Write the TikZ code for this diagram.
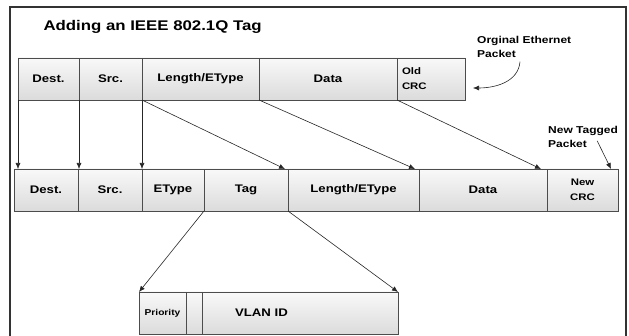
\documentclass[tikz,border=0pt]{standalone}
\usepackage{fontspec}
\setmainfont[FakeStretch=1.2]{Liberation Sans}
\usepackage{tikz}
\usetikzlibrary{arrows.meta, positioning}

\begin{document}
\begin{tikzpicture}[
  x=1pt, y=-1pt,
  font=\bfseries\fontsize{11}{12}\selectfont,
  >={Latex[length=6pt,width=5pt]},
  cell/.style={draw=black!70, line width=0.7pt, top color=gray!5,
               bottom color=gray!28, minimum width=#1,
               minimum height=42pt, inner sep=1pt, outer sep=0pt,
               align=center},
  arr/.style={->, line width=0.6pt, color=black!85},
  annot/.style={font=\bfseries\fontsize{10}{14}\selectfont,
                align=left, inner sep=0pt},
  small/.style={font=\bfseries\fontsize{9.5}{15}\selectfont},
]
\useasboundingbox (0,0) rectangle (629,336);

%% ---------- Frame and title ------------------------------------
\draw[line width=1.2pt, black!80] (10,336) -- (10,7) -- (626,7) -- (626,336);
\node[font=\bfseries\fontsize{14}{16}\selectfont, anchor=west] (title)
      at (40,27) {Adding an IEEE 802.1Q Tag};

%% ---------- Row 1: Original frame ------------------------------
\node[cell=61pt, anchor=north west] (dest1) at (18,58) {Dest.};
\node[cell=63pt, right=0pt of dest1]  (src1)  {Src.};
\node[cell=117pt, right=0pt of src1]  (len1)  {Length/EType};
\node[cell=138pt, right=0pt of len1]  (data1) {Data};
\node[cell=68pt, small, text width=58pt, inner xsep=5pt, align=left,
      right=0pt of data1]             (crc1)  {Old\\CRC};

\node[annot, anchor=north west] (orignote) at (477,36)
      {Orginal Ethernet\\Packet};

%% ---------- Row 2: Tagged frame --------------------------------
\node[cell=64pt, anchor=north west] (dest2) at (14,169) {Dest.};
\node[cell=64pt, right=0pt of dest2]  (src2)   {Src.};
\node[cell=62pt, right=0pt of src2]   (etype2) {EType};
\node[cell=84pt, right=0pt of etype2] (tag2)   {Tag};
\node[cell=131pt, right=0pt of tag2]  (len2)   {Length/EType};
\node[cell=128pt, right=0pt of len2]  (data2)  {Data};
\node[cell=71pt, small, right=0pt of data2] (crc2) {New\\CRC};

\node[annot, anchor=north west] (newnote) at (548,126)
      {New Tagged\\Packet};

%% ---------- Row 3: Tag fields ----------------------------------
\node[cell=47pt, anchor=north west,
      font=\bfseries\fontsize{8.5}{9}\selectfont] (prio) at (139,292) {Priority};
\node[cell=16pt, right=0pt of prio] (cfi) {};
\node[cell=196pt, text width=130pt, inner xsep=33pt, align=left,
      right=0pt of cfi] (vlan) {VLAN ID};

%% ---- Arrows ---------------------------------------------------
\draw[arr] (dest1.south west) -- (dest1.south west |- dest2.north);
\draw[arr] (src1.south west)  -- (src1.south west |- src2.north);
\draw[arr] (len1.south west)  -- (len1.south west |- etype2.north);

\draw[arr] (len1.south west)  -- ([xshift=-3pt]tag2.north east);
\draw[arr] (data1.south west) -- ([xshift=-4pt]len2.north east);
\draw[arr] (crc1.south west)  -- ([xshift=-6pt]data2.north east);

\draw[arr] (tag2.south west) -- (prio.north west);
\draw[arr] (tag2.south east) -- (vlan.north east);

%% annotation pointers
\draw[arr] ([shift={(43pt,-4pt)}]orignote.south west)
      to[out=-95, in=0] ([xshift=8pt,yshift=-9pt]crc1.east);
\draw[arr] ([xshift=-21pt,yshift=-4pt]newnote.east)
      -- ([xshift=-7pt]crc2.north east);
\end{tikzpicture}
\end{document}
